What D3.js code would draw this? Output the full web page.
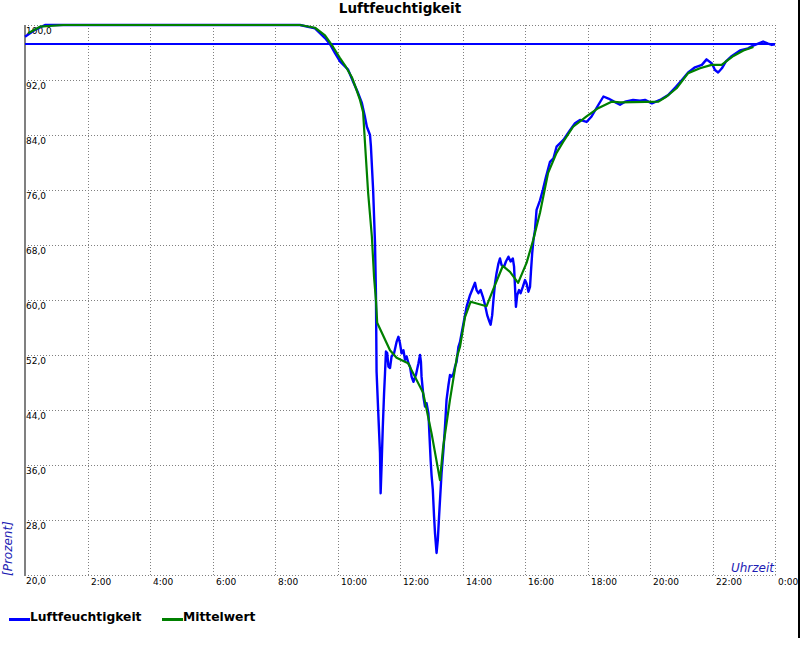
<!DOCTYPE html>
<html><head><meta charset="utf-8">
<script src="https://cdn.jsdelivr.net/npm/d3@7/dist/d3.min.js"></script>
<style>body{margin:0;background:#fff}svg{display:block}</style>
</head><body>
<svg id="chart" width="800" height="650"></svg>
<script>
// ---- data ----
const title = "Luftfeuchtigkeit";
const seriesNames = ["Luftfeuchtigkeit", "Mittelwert"];
const yTickValues = [100, 92, 84, 76, 68, 60, 52, 44, 36, 28, 20];
const xTickHours = [2, 4, 6, 8, 10, 12, 14, 16, 18, 20, 22, 24];
const xTickLabels = ["2:00","4:00","6:00","8:00","10:00","12:00","14:00","16:00","18:00","20:00","22:00","0:00"];
const referenceValue = 97.3;

const luftHours = [0,0.32,0.64,8.80,9.28,9.60,9.76,9.92,10.08,10.34,10.50,10.66,10.78,10.88,10.94,11.04,11.07,11.14,11.20,11.23,
  11.25,11.31,11.36,11.38,11.41,11.45,11.49,11.52,11.55,11.59,11.63,11.68,11.73,11.81,11.89,11.95,12.00,12.05,12.11,12.16,
  12.21,12.27,12.32,12.37,12.43,12.51,12.59,12.64,12.67,12.69,12.75,12.80,12.85,12.91,12.94,12.98,13.01,13.05,13.09,13.12,
  13.17,13.21,13.25,13.28,13.33,13.39,13.44,13.49,13.55,13.60,13.65,13.71,13.76,13.81,13.87,13.92,14.03,14.13,14.24,14.33,
  14.40,14.45,14.51,14.58,14.65,14.72,14.79,14.86,14.90,14.95,14.99,15.04,15.09,15.15,15.20,15.25,15.33,15.39,15.47,15.54,
  15.61,15.65,15.68,15.71,15.75,15.81,15.86,15.93,16.00,16.05,16.11,16.16,16.19,16.23,16.27,16.32,16.37,16.48,16.57,16.67,
  16.80,16.91,17.01,17.23,17.44,17.60,17.76,17.97,18.13,18.35,18.51,18.67,18.85,19.04,19.20,19.46,19.68,19.84,20.06,20.32,
  20.58,20.83,21.02,21.22,21.44,21.66,21.81,21.98,22.08,22.18,22.30,22.43,22.62,22.88,23.14,23.30,23.46,23.62,23.78,23.90,24.00];
const luftValues = [98.3,99.3,100,100,99.5,98.1,97.2,95.9,94.7,93.5,91.75,90.1,88.65,86.6,85.2,84.0,82.3,76.0,68.3,61.0,
  49.6,43.0,37.7,31.9,35.75,41.6,46.4,49.3,52.5,52.3,50.3,50.1,51.8,52.25,53.9,54.65,53.7,52.25,52.7,51.3,
  51.8,50.8,50.3,48.85,48.1,49.1,50.8,52.0,51.0,48.85,45.9,44.5,45.0,43.5,40.6,36.7,34.5,32.4,28.5,26.1,
  23.2,25.1,28.5,30.9,34.8,38.2,41.6,45.5,47.6,49.1,48.85,49.3,50.3,51.0,53.2,53.9,56.6,59.0,60.7,61.7,
  62.5,61.45,61.0,61.45,60.5,59.3,57.8,56.85,56.4,57.8,60.0,62.4,63.9,65.3,66.05,65.1,64.85,65.6,66.3,65.6,
  66.05,64.85,61.9,59.0,60.7,61.45,61.0,61.9,62.9,62.4,61.2,61.9,64.1,66.8,68.7,70.2,73.1,74.5,76.0,77.9,
  80.1,80.6,82.3,83.3,84.7,85.7,86.2,85.9,86.7,88.4,89.6,89.3,88.85,88.4,88.85,89.1,89.0,89.1,88.6,89.1,
  89.8,91.0,92.0,93.1,93.85,94.2,95.0,94.4,93.45,93.1,93.7,94.7,95.5,96.3,96.6,97.0,97.3,97.6,97.3,97.1,97.2];

const mittelHours = [0.10,0.48,1.22,8.80,9.28,9.60,9.86,10.08,10.27,10.46,10.59,10.72,10.82,10.88,10.98,11.10,11.17,11.23,11.27,11.68,
  11.89,12.26,12.37,12.74,13.01,13.28,13.38,13.60,13.82,13.92,14.08,14.26,14.77,14.98,15.29,15.52,15.78,16.05,16.26,16.48,
  16.74,17.01,17.22,17.54,17.97,18.34,18.77,19.04,20.27,20.53,20.85,21.22,21.60,21.97,22.29,22.67,22.99,23.31];
const mittelValues = [98.8,99.75,100,100,99.6,98.5,96.8,95.2,93.9,92.4,90.8,89.1,87.3,82.8,75.6,69.2,63.3,60.0,56.7,52.7,
  51.6,50.8,49.8,46.5,40.6,33.8,38.6,45.5,51.7,53.2,57.5,59.75,59.1,61.5,64.95,64.1,62.5,65.4,68.7,72.7,
  78.5,81.4,83.0,85.2,86.7,87.9,88.85,88.75,88.85,89.6,90.8,93.0,93.7,94.2,94.2,95.5,96.3,96.8];

// ---- drawing ----
const svg = d3.select("#chart");
const x = d3.scaleLinear().domain([0, 24]).range([25, 775]);
const y = d3.scaleLinear().domain([20, 100]).range([575, 25]);
const px = v => Math.round(v) + 0.5;
const fmt = v => d3.format(".1f")(v).replace(".", ",");

const grid = svg.append("g");
yTickValues.forEach(v => {
  grid.append("line").attr("x1", 25).attr("x2", 775.5).attr("y1", px(y(v))).attr("y2", px(y(v)))
    .attr("stroke", "#808080").attr("stroke-width", 1).attr("stroke-dasharray", "1,2");
});
xTickHours.forEach(h => {
  grid.append("line").attr("x1", px(x(h))).attr("x2", px(x(h))).attr("y1", 25).attr("y2", 576)
    .attr("stroke", "#808080").attr("stroke-width", 1).attr("stroke-dasharray", "1,2");
});

// y axis line
svg.append("line").attr("x1", 25).attr("x2", 25).attr("y1", 25).attr("y2", 576)
  .attr("stroke", "#808080").attr("stroke-width", 2);

// y labels
svg.append("g").selectAll("text").data(yTickValues).join("text")
  .attr("x", 26).attr("y", d => Math.round(y(d)) + 9)
  .attr("font-family", "DejaVu Sans").attr("font-size", 9).attr("fill", "#000")
  .text(d => fmt(d));

// x labels
svg.append("g").selectAll("text").data(xTickHours).join("text")
  .attr("x", d => Math.round(x(d)) + 3).attr("y", 585)
  .attr("font-family", "DejaVu Sans").attr("font-size", 9).attr("fill", "#000")
  .text((d, i) => xTickLabels[i]);

// axis titles
svg.append("text").attr("transform", "translate(12,576) rotate(-90)")
  .attr("font-family", "DejaVu Sans").attr("font-style", "italic").attr("font-size", 12)
  .attr("fill", "#1c1cb4").text("[Prozent]");
svg.append("text").attr("x", 774).attr("y", 572).attr("text-anchor", "end")
  .attr("font-family", "DejaVu Sans").attr("font-style", "italic").attr("font-size", 12)
  .attr("fill", "#1c1cb4").text("Uhrzeit");

// title
svg.append("text").attr("x", 400).attr("y", 13).attr("text-anchor", "middle")
  .attr("font-family", "DejaVu Sans").attr("font-weight", "bold").attr("font-size", 13.5)
  .attr("fill", "#000").text(title);

// reference line
svg.append("line").attr("x1", x(0)).attr("x2", x(24)).attr("y1", Math.round(y(referenceValue))).attr("y2", Math.round(y(referenceValue)))
  .attr("stroke", "#0000ff").attr("stroke-width", 2);

const line = d3.line().x(d => x(d[0])).y(d => y(d[1]));
svg.append("path").datum(luftHours.map((h, i) => [h, luftValues[i]]))
  .attr("d", line).attr("fill", "none").attr("stroke", "#0000ff").attr("stroke-width", 2.4)
  .attr("stroke-linejoin", "round");
svg.append("path").datum(mittelHours.map((h, i) => [h, mittelValues[i]]))
  .attr("d", line).attr("fill", "none").attr("stroke", "#008000").attr("stroke-width", 2.2)
  .attr("stroke-linejoin", "round");

// legend
const colors = ["#0000ff", "#008000"];
const legX = [9, 162];
seriesNames.forEach((n, i) => {
  svg.append("rect").attr("x", legX[i]).attr("y", 618).attr("width", 21).attr("height", 3).attr("fill", colors[i]);
  svg.append("text").attr("x", legX[i] + 21).attr("y", 620.5)
    .attr("font-family", "DejaVu Sans").attr("font-weight", "bold").attr("font-size", 12.3)
    .attr("fill", "#000").text(n);
});

// right frame edge
svg.append("rect").attr("x", 798).attr("y", 0).attr("width", 2).attr("height", 638).attr("fill", "#000");
</script>
</body></html>
